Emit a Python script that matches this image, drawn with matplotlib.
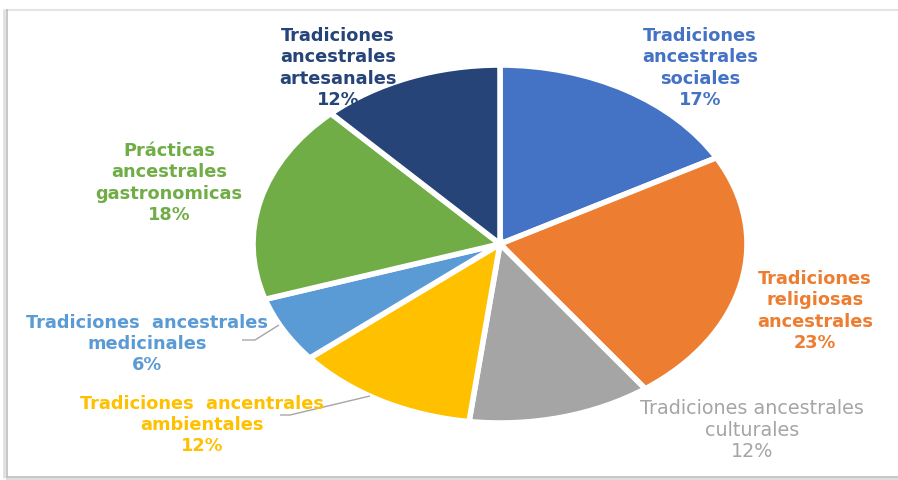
import matplotlib
matplotlib.use("Agg")
import matplotlib.pyplot as plt
from matplotlib.lines import Line2D

# ---- data ----
categories = [
    "Tradiciones\nancestrales\nsociales",
    "Tradiciones\nreligiosas\nancestrales",
    "Tradiciones ancestrales\nculturales",
    "Tradiciones  ancentrales\nambientales",
    "Tradiciones  ancestrales\nmedicinales",
    "Prácticas\nancestrales\ngastronomicas",
    "Tradiciones\nancestrales\nartesanales",
]
percentages = [17, 23, 12, 12, 6, 18, 12]
colors = ["#4472C4", "#ED7D31", "#A5A5A5", "#FFC000", "#5B9BD5", "#70AD47", "#264478"]
label_colors = ["#4472C4", "#ED7D31", "#A5A5A5", "#FFC000", "#5B9BD5", "#70AD47", "#264478"]
label_weights = ["bold", "bold", "normal", "bold", "bold", "bold", "bold"]
label_sizes = [12.8, 12.8, 13.8, 12.8, 12.8, 12.8, 12.8]

# ---- layout (pixel positions of label centres, from top-left) ----
W, H = 898, 481
label_pos_px = [(700, 68), (815, 311), (752, 430), (202, 425), (147, 344), (169, 183), (338, 68)]

fig = plt.figure(figsize=(W / 100, H / 100), dpi=100)
fig.patch.set_facecolor("white")

# pie centre and radii in pixels
cx, cy = 500, 245
rx, ry = 247, 179
ax = fig.add_axes([0, 0, 1, 1])
ax.pie(percentages, colors=colors, startangle=90, counterclock=False, radius=1,
       wedgeprops=dict(edgecolor="white", linewidth=4))
ax.set_aspect("auto")
ax.set_xlim(-cx / rx, (W - cx) / rx)
ax.set_ylim(-(H - cy) / ry, cy / ry)
ax.axis("off")

for cat, pct, col, wt, fs, (px, py) in zip(categories, percentages, label_colors, label_weights,
                                          label_sizes, label_pos_px):
    fig.text(px / W, 1 - py / H, f"{cat}\n{pct}%", ha="center", va="center",
             color=col, fontsize=fs, fontweight=wt, family="DejaVu Sans",
             linespacing=22 / (fs * 100 / 72))

# pixel-space helper for decorative lines
def px_line(pts, color="#A6A6A6", lw=1.0):
    xs = [p[0] / W for p in pts]
    ys = [1 - p[1] / H for p in pts]
    fig.add_artist(Line2D(xs, ys, color=color, lw=lw, transform=fig.transFigure,
                          solid_capstyle="butt"))

# leader lines
px_line([(279, 326), (255, 341), (242, 341)])
px_line([(370, 397), (290, 416), (280, 416)])

# frame (open on the right) with soft shadow
px_line([(6, 10.5), (898, 10.5)], color="#E4E4E4", lw=1.5)
px_line([(4, 10), (4, 479)], color="#E0E0E0", lw=2.0)
px_line([(6.5, 10), (6.5, 478)], color="#BDBDBD", lw=1.2)
px_line([(6, 479.5), (898, 479.5)], color="#DDDDDD", lw=1.5)
px_line([(6, 477.5), (898, 477.5)], color="#BDBDBD", lw=1.2)

fig.savefig("out.png", dpi=100, facecolor="white")
